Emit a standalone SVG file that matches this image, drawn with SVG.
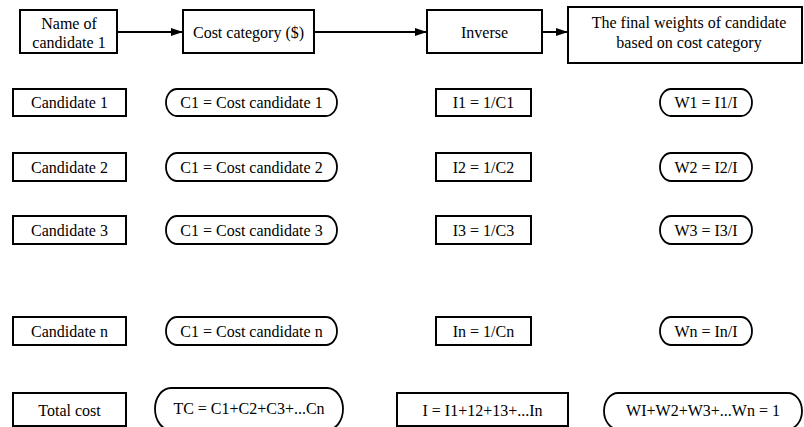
<svg xmlns="http://www.w3.org/2000/svg" width="804" height="427" viewBox="0 0 804 427">
<style>
.box{fill:#fff;stroke:#000;stroke-width:2}
.pill{fill:#fff;stroke:#000;stroke-width:1.8}
text{font-family:'Liberation Serif','Times New Roman',Tinos,'DejaVu Serif',serif;font-size:16px;fill:#000;text-anchor:middle}
.c{stroke:#000;stroke-width:2;fill:none}
</style>
<defs>
<marker id="ah" viewBox="0 0 12 8" refX="12" refY="4" markerWidth="12" markerHeight="8" markerUnits="userSpaceOnUse" orient="auto">
<path d="M0,0 L12,4 L0,8 Z" fill="#000"/>
</marker>
</defs>
<rect width="804" height="427" fill="#fff"/>
<g id="connectors">
<line class="c" x1="117" y1="32" x2="183" y2="32" marker-end="url(#ah)"/>
<line class="c" x1="314" y1="32" x2="427" y2="32" marker-end="url(#ah)"/>
<line class="c" x1="542" y1="32" x2="568" y2="32" marker-end="url(#ah)"/>
</g>
<g font-family="Liberation Serif, serif">
<g id="name-of-candidate">
<rect class="box" x="20" y="10" width="97" height="43"/>
<text x="69" y="28.5">Name of</text>
<text x="69" y="47.5">candidate 1</text>
</g>
<g id="cost-category">
<rect class="box" x="183" y="10" width="131" height="43"/>
<text x="248.5" y="37.5">Cost category ($)</text>
</g>
<g id="inverse">
<rect class="box" x="427" y="10" width="115" height="43"/>
<text x="484.5" y="37.5">Inverse</text>
</g>
<g id="final-weights">
<rect class="box" x="568" y="7" width="234" height="56"/>
<text x="689" y="28">The final weights of candidate</text>
<text x="689" y="48">based on cost category</text>
</g>
<g id="candidate-1">
<rect class="box" x="13" y="89" width="113" height="27"/>
<text x="69.5" y="108">Candidate 1</text>
</g>
<g id="cost-1">
<rect class="pill" x="166" y="89" width="171" height="27" rx="11" ry="13.5"/>
<text x="251.5" y="108">C1 = Cost candidate 1</text>
</g>
<g id="inverse-1">
<rect class="box" x="436" y="89" width="95" height="27"/>
<text x="483.5" y="108">I1 = 1/C1</text>
</g>
<g id="weight-1">
<rect class="pill" x="660" y="89" width="92" height="27" rx="11" ry="13.5"/>
<text x="706" y="108">W1 = I1/I</text>
</g>
<g id="candidate-2">
<rect class="box" x="13" y="153" width="113" height="28"/>
<text x="69.5" y="172.5">Candidate 2</text>
</g>
<g id="cost-2">
<rect class="pill" x="166" y="153" width="171" height="28" rx="11" ry="14"/>
<text x="251.5" y="172.5">C1 = Cost candidate 2</text>
</g>
<g id="inverse-2">
<rect class="box" x="436" y="153" width="95" height="28"/>
<text x="483.5" y="172.5">I2 = 1/C2</text>
</g>
<g id="weight-2">
<rect class="pill" x="660" y="153" width="92" height="28" rx="11" ry="14"/>
<text x="706" y="172.5">W2 = I2/I</text>
</g>
<g id="candidate-3">
<rect class="box" x="13" y="216" width="113" height="28"/>
<text x="69.5" y="235.5">Candidate 3</text>
</g>
<g id="cost-3">
<rect class="pill" x="166" y="216" width="171" height="28" rx="11" ry="14"/>
<text x="251.5" y="235.5">C1 = Cost candidate 3</text>
</g>
<g id="inverse-3">
<rect class="box" x="436" y="216" width="95" height="28"/>
<text x="483.5" y="235.5">I3 = 1/C3</text>
</g>
<g id="weight-3">
<rect class="pill" x="660" y="216" width="92" height="28" rx="11" ry="14"/>
<text x="706" y="235.5">W3 = I3/I</text>
</g>
<g id="candidate-n">
<rect class="box" x="13" y="317" width="113" height="28"/>
<text x="69.5" y="336.5">Candidate n</text>
</g>
<g id="cost-n">
<rect class="pill" x="166" y="317" width="171" height="28" rx="11" ry="14"/>
<text x="251.5" y="336.5">C1 = Cost candidate n</text>
</g>
<g id="inverse-n">
<rect class="box" x="436" y="317" width="95" height="28"/>
<text x="483.5" y="336.5">In = 1/Cn</text>
</g>
<g id="weight-n">
<rect class="pill" x="660" y="317" width="92" height="28" rx="11" ry="14"/>
<text x="706" y="336.5">Wn = In/I</text>
</g>
<g id="total-cost">
<rect class="box" x="13" y="393" width="113" height="33"/>
<text x="69.5" y="415.5">Total cost</text>
</g>
<g id="total-c">
<rect class="pill" x="155" y="388" width="188" height="42" rx="16" ry="21"/>
<text x="249" y="413.5">TC = C1+C2+C3+...Cn</text>
</g>
<g id="total-i">
<rect class="box" x="397" y="393" width="171" height="33"/>
<text x="482.5" y="415.5">I = I1+12+13+...In</text>
</g>
<g id="total-w">
<rect class="pill" x="604" y="393" width="198" height="36" rx="14" ry="18"/>
<text x="703" y="415.5">WI+W2+W3+...Wn = 1</text>
</g>
</g>
</svg>
